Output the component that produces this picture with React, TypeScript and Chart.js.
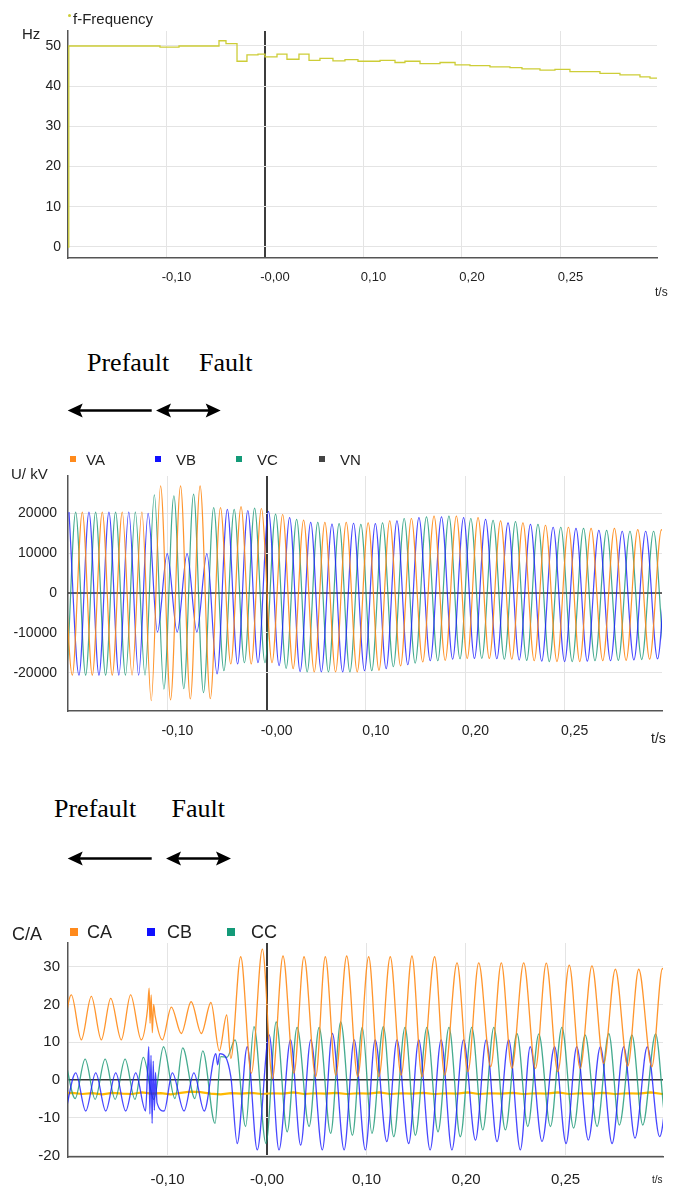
import React, { useEffect, useRef } from 'react';
import { Chart, registerables } from 'chart.js';

Chart.register(...registerables);

const SANS = "'Liberation Sans', Arial, Helvetica, sans-serif";
const SERIF = "'Liberation Serif', 'Times New Roman', Times, serif";

// ---------- shared time axis (ms) ----------
const xMin = -200;
const xMax = 398;
const xTickValues = [-100, 0, 100, 200, 300];
const xTickLabels = ['-0,10', '-0,00', '0,10', '0,20', '0,25'];

// ---------- frequency (Hz), stepped ----------
const freqT = [-200, -199.2, -106.6, -87.3, -46.7, -39.6, -28.4, -18.3, -7.1, 0, 12.2, 22.3, 34.5, 44.7, 55.8, 69.0, 81.2, 94.4, 116.8, 132.0, 142.1, 157.4, 177.7, 193.0, 208.1, 228.4, 248.7, 260.9, 279.2, 294.4, 309.6, 340.1, 360.4, 380.7, 390.9, 398];
const freqV = [0, 50.0, 49.7, 50.0, 51.3, 50.6, 46.2, 47.8, 48.0, 47.3, 48.0, 46.7, 48.0, 46.4, 46.9, 46.3, 46.6, 46.2, 46.4, 45.9, 46.2, 45.6, 45.9, 45.3, 45.1, 44.8, 44.6, 44.3, 44.0, 44.2, 43.6, 43.2, 42.8, 42.3, 42.0, 42.0];
const freqTicks = [0, 10, 20, 30, 40, 50];

// ---------- voltages (V) ----------
// times (ms) of successive VA positive peaks
const cycleT = [-205.7, -185.6, -165.5, -145.4, -125.6, -106.8, -86.7, -67.0, -46.5, -25.8, -5.3, 16.1, 37.2, 58.6, 80.1, 102.2, 123.9, 145.7, 168.5, 191.0, 212.8, 235.5, 258.0, 280.7, 303.8, 326.6, 350.1, 373.6, 397.5, 420.9];
const vaHi = [20300, 20300, 20300, 20300, 20300, 26900, 26900, 26900, 21400, 21700, 21200, 19700, 18300, 17700, 17700, 17600, 18100, 18700, 19300, 19300, 18900, 18100, 17600, 17000, 16500, 16200, 16200, 15900, 15900, 15900];
const vaLo = [-20600, -20600, -20600, -20600, -27000, -26800, -26600, -26500, -17800, -17800, -17500, -19000, -19800, -19800, -19800, -19400, -18300, -17300, -16900, -16400, -16400, -16600, -17000, -17200, -17200, -17000, -16900, -16600, -16500, -16500];
const vbHi = [20300, 20300, 20300, 20300, 20000, 9900, 9900, 9900, 21000, 20700, 20500, 18900, 17700, 17300, 17500, 17400, 18100, 18900, 19100, 18900, 18500, 17600, 17200, 16500, 16200, 15700, 15500, 15500, 15500, 15500];
const vbLo = [-20600, -20600, -20600, -20600, -9800, -9800, -9800, -20300, -17800, -17500, -18200, -19700, -19800, -19800, -19500, -19000, -18000, -17000, -16600, -16400, -16500, -16800, -17100, -17200, -17100, -17000, -16800, -16500, -16500, -16500];
const vcHi = [20300, 20300, 20300, 20300, 20300, 24600, 24400, 24800, 21400, 21000, 21300, 19800, 18500, 17700, 17400, 17200, 17600, 18700, 19100, 19300, 18700, 18200, 17900, 17200, 16500, 16200, 15700, 15500, 15500, 15500];
const vcLo = [-20600, -20600, -20600, -20600, -20600, -24100, -24000, -25000, -19500, -17500, -17500, -18900, -19800, -19800, -19800, -19500, -18500, -17600, -17000, -16500, -16400, -16600, -16900, -17200, -17200, -17000, -16900, -16700, -16500, -16500];
const vnT = [-200, 398];
const vnV = [0, 0];
const voltTicks = [-20000, -10000, 0, 10000, 20000];

// ---------- currents (A): [position in cycles, value] ----------
const caPts = [[0, 10.6], [0.45, 22.5], [0.95, 10.6], [1.45, 22.1], [1.95, 10.6], [2.42, 21.6], [2.95, 10.6], [3.42, 22.5], [3.96, 10.6], [4.3, 19], [4.38, 24.3], [4.43, 15], [4.49, 22.5], [4.55, 12.5], [4.62, 20], [4.7, 17], [5.08, 10.6], [5.53, 19.3], [6.03, 12.3], [6.53, 20.7], [7.05, 12.3], [7.52, 20.5], [7.93, 7.7], [8.29, 17.2], [8.49, 5.7], [8.97, 32.6], [9.49, 1.8], [10.03, 34.6], [10.5, 0.4], [11, 32.8], [11.52, 1.8], [12, 32.6], [12.55, 0.9], [13, 32.6], [13.49, 1.3], [14, 32.8], [14.5, 0.9], [15, 32.6], [15.47, 0.9], [16, 32.6], [16.5, 1.3], [17, 32.8], [17.44, 0.9], [18, 32.6], [18.45, 1.3], [19, 31], [19.5, 2.2], [20, 31], [20.53, 3.5], [21, 31], [21.47, 3.1], [22, 31], [22.52, 3.1], [23, 30.9], [23.5, 2.2], [24, 30.4], [24.48, 3.1], [25, 30.2], [25.5, 4.4], [26, 29.3], [26.53, 3.7], [27, 29.3], [27.55, 3.5], [28, 29.5], [28.5, 3.5]];
const cbPts = [[0.17, -8.2], [0.67, 1.9], [1.17, -8.2], [1.67, 1.9], [2.17, -8.2], [2.67, 1.9], [3.17, -8.2], [3.68, 1.9], [4.19, -8.2], [4.3, 3], [4.36, 8.8], [4.42, -9], [4.48, 6.5], [4.54, -11.5], [4.6, 5], [4.66, -8], [4.72, 2], [4.8, -6], [5.17, -8.2], [5.58, 1.9], [6.17, -8.2], [6.67, 1.9], [7.19, -8.2], [7.76, 7], [7.85, 4], [7.95, 7], [8.49, 0.9], [8.8, -16.8], [9.29, 8.8], [9.78, -18.5], [10.35, 11.9], [10.81, -18.5], [11.36, 10.6], [11.84, -17.2], [12.32, 10.6], [12.86, -18.5], [13.33, 12.3], [13.88, -18.5], [14.34, 10.6], [14.85, -18.5], [15.3, 10.6], [15.84, -16.3], [16.31, 10.6], [16.85, -16.8], [17.3, 10.6], [17.8, -18.5], [18.29, 10.6], [18.77, -18.5], [19.3, 10.6], [19.85, -15.9], [20.33, 10.6], [20.81, -16.3], [21.33, 10.6], [21.85, -18.5], [22.29, 8.8], [22.81, -16.3], [23.36, 8.8], [23.86, -16.8], [24.33, 8.8], [24.84, -15.9], [25.36, 8.8], [25.86, -16.8], [26.36, 8.8], [26.84, -15.4], [27.36, 8.8], [27.88, -15], [28.36, 8.8]];
const ccPts = [[0.14, 5.5], [0.64, -4.9], [1.14, 5.5], [1.64, -5.1], [2.14, 5.5], [2.64, -5.1], [3.14, 5.5], [3.64, -5.1], [4.07, 6.0], [4.63, -5.1], [5.14, 8.8], [5.71, -4.9], [6.1, 8.5], [6.72, -4.9], [7.12, 7.7], [7.72, -11.5], [8.0, 6.2], [8.3, 6.0], [8.7, 10.6], [9.21, -12.3], [9.62, 14.1], [10.2, -16.8], [10.68, 15.4], [11.2, -13.7], [11.67, 13.9], [12.24, -12.3], [12.71, 13.9], [13.25, -14.1], [13.72, 15.4], [14.26, -14.6], [14.71, 13.9], [15.15, -14.1], [15.68, 14.1], [16.16, -15], [16.68, 13.9], [17.15, -14.6], [17.66, 13.9], [18.15, -13.7], [18.64, 13.9], [19.15, -15], [19.68, 13.9], [20.18, -13.2], [20.67, 13.9], [21.18, -13.2], [21.7, 12.3], [22.18, -12.3], [22.67, 12.2], [23.18, -12.3], [23.68, 13.9], [24.19, -12.7], [24.7, 11.9], [25.22, -12.3], [25.72, 12.3], [26.17, -11.9], [26.71, 11.9], [27.17, -11.9], [27.71, 12.2], [28.17, -11.5], [28.7, 12]];
// residual current, one value per half cycle
const cnVals = [-3.6, -3.4, -3.7, -3.5, -3.8, -3.4, -3.6, -3.7, -3.3, -3.6, -3.5, -3.8, -3.4, -3.1, -3.2, -3.6, -3.8, -3.5, -3.6, -3.4, -3.7, -3.5, -3.6, -3.3, -3.7, -3.5, -3.6, -3.4, -3.7, -3.5, -3.6, -3.3, -3.7, -3.5, -3.6, -3.4, -3.7, -3.5, -3.6, -3.3, -3.7, -3.5, -3.6, -3.4, -3.7, -3.5, -3.6, -3.3, -3.7, -3.5, -3.6, -3.4, -3.7, -3.5, -3.6, -3.3, -3.7, -3.5, -3.6];
const currTicks = [-20, -10, 0, 10, 20, 30];

// ---------- colours ----------
const ORANGE = 'rgba(255,137,22,0.9)';
const BLUE = 'rgba(25,25,255,0.8)';
const TEAL = 'rgba(22,150,115,0.8)';
const FREQ = 'rgb(205,205,55)';
const GOLD = 'rgba(255,185,0,1)';

function posToMs(p: number): number {
  const n = cycleT.length;
  let k = Math.floor(p);
  if (k < 0) k = 0;
  if (k > n - 2) k = n - 2;
  return cycleT[k] + (p - k) * (cycleT[k + 1] - cycleT[k]);
}

function hiLo(hi: number[], lo: number[], hiOff: number, loOff: number) {
  const pts: { x: number; y: number }[] = [];
  for (let i = 0; i < hi.length; i++) {
    pts.push({ x: posToMs(i + hiOff), y: hi[i] });
    pts.push({ x: posToMs(i + loOff), y: lo[i] });
  }
  return pts.sort((a, b) => a.x - b.x);
}

function fromPairs(p: number[][]) {
  return p.map(([pos, v]) => ({ x: posToMs(pos), y: v }));
}

interface AxisSpec {
  padTop: number; padRight: number;
  xHeight: number; xFont: number; xPad: number; xOffset: number;
  yWidth: number; yFont: number; yPad: number;
  yMin: number; yMax: number; yTicks: number[]; yZeroDark: boolean;
}

function makeOptions(a: AxisSpec): any {
  const light = '#e4e4e4';
  return {
    responsive: false,
    animation: false,
    events: [],
    layout: { padding: { top: a.padTop, right: a.padRight, left: 0, bottom: 0 } },
    plugins: { legend: { display: false }, tooltip: { enabled: false }, title: { display: false } },
    elements: { point: { radius: 0 } },
    scales: {
      x: {
        type: 'linear', min: xMin, max: xMax,
        afterBuildTicks: (s: any) => { s.ticks = xTickValues.map((v) => ({ value: v })); },
        afterFit: (s: any) => { s.height = a.xHeight; },
        ticks: {
          autoSkip: false, maxRotation: 0, minRotation: 0, padding: a.xPad, labelOffset: a.xOffset,
          color: '#222', font: { family: SANS, size: a.xFont },
          callback: (v: any) => { const i = xTickValues.indexOf(Number(v)); return i >= 0 ? xTickLabels[i] : ''; },
        },
        grid: {
          drawTicks: false,
          color: (c: any) => (c.tick && c.tick.value === 0 ? '#3c3c3c' : light),
          lineWidth: (c: any) => (c.tick && c.tick.value === 0 ? 2 : 1),
        },
        border: { color: '#555', width: 1.5 },
      },
      y: {
        type: 'linear', min: a.yMin, max: a.yMax,
        afterBuildTicks: (s: any) => { s.ticks = a.yTicks.map((v) => ({ value: v })); },
        afterFit: (s: any) => { s.width = a.yWidth; },
        ticks: {
          autoSkip: false, padding: a.yPad, color: '#222', font: { family: SANS, size: a.yFont },
          callback: (v: any) => String(v),
        },
        grid: {
          drawTicks: false,
          color: (c: any) => (a.yZeroDark && c.tick && c.tick.value === 0 ? '#333' : light),
          lineWidth: (c: any) => (a.yZeroDark && c.tick && c.tick.value === 0 ? 1.5 : 1),
        },
        border: { color: '#555', width: 1.5 },
      },
    },
  };
}

function wave(data: any[], color: string, width = 1.2): any {
  return { data, borderColor: color, borderWidth: width, pointRadius: 0, fill: false, cubicInterpolationMode: 'monotone' };
}

function freqConfig(): any {
  return {
    type: 'line',
    data: {
      datasets: [{
        data: freqT.map((t, i) => ({ x: t, y: freqV[i] })),
        borderColor: FREQ, borderWidth: 1.3, pointRadius: 0, fill: false, stepped: true,
      }],
    },
    options: makeOptions({
      padTop: 31, padRight: 21, xHeight: 42, xFont: 13, xPad: 12, xOffset: 10,
      yWidth: 68, yFont: 14, yPad: 7, yMin: -2.74, yMax: 53.73, yTicks: freqTicks, yZeroDark: false,
    }),
  };
}

function voltConfig(): any {
  return {
    type: 'line',
    data: {
      datasets: [
        wave(hiLo(vaHi, vaLo, 0, 0.5), ORANGE),
        wave(hiLo(vbHi, vbLo, 1 / 3, 5 / 6), BLUE),
        wave(hiLo(vcHi, vcLo, -1 / 3, 1 / 6), TEAL),
        { data: vnT.map((t, i) => ({ x: t, y: vnV[i] })), borderColor: '#333', borderWidth: 1.5, pointRadius: 0, fill: false },
      ],
    },
    options: makeOptions({
      padTop: 36, padRight: 16, xHeight: 49, xFont: 14, xPad: 12, xOffset: 10,
      yWidth: 68, yFont: 14, yPad: 11, yMin: -29610, yMax: 29360, yTicks: voltTicks, yZeroDark: false,
    }),
  };
}

function currConfig(): any {
  return {
    type: 'line',
    data: {
      datasets: [
        wave(fromPairs(caPts), ORANGE, 1.3),
        wave(fromPairs(cbPts), BLUE, 1.3),
        wave(fromPairs(ccPts), TEAL, 1.3),
        { data: cnVals.map((v, i) => ({ x: posToMs(i / 2), y: v })), borderColor: GOLD, borderWidth: 2.2, pointRadius: 0, fill: false },
      ],
    },
    options: makeOptions({
      padTop: 43, padRight: 15, xHeight: 31, xFont: 15, xPad: 14, xOffset: 0,
      yWidth: 68, yFont: 15, yPad: 8, yMin: -20.37, yMax: 36.24, yTicks: currTicks, yZeroDark: true,
    }),
  };
}

function ChartCanvas({ top, height, config }: { top: number; height: number; config: () => any }) {
  const ref = useRef<HTMLCanvasElement>(null);
  useEffect(() => {
    const chart = new Chart(ref.current as HTMLCanvasElement, config());
    return () => chart.destroy();
  }, []);
  return (
    <canvas
      ref={ref}
      width={678}
      height={height}
      style={{ position: 'absolute', left: 0, top, width: 678, height, display: 'block' }}
    />
  );
}

function Txt({ x, y, size, children, family = SANS, color = '#222' }: any) {
  return (
    <div
      style={{
        position: 'absolute', left: x, top: y, fontFamily: family, fontSize: size,
        lineHeight: `${size}px`, transform: 'translateY(-50%)', color, whiteSpace: 'nowrap',
      }}
    >
      {children}
    </div>
  );
}

function Sq({ x, y, s, color }: any) {
  return <div style={{ position: 'absolute', left: x, top: y, width: s, height: s, background: color }} />;
}

function headL(tx: number, y: number) {
  return `${tx},${y} ${tx + 15},${y - 7} ${tx + 12},${y} ${tx + 15},${y + 7}`;
}
function headR(tx: number, y: number) {
  return `${tx},${y} ${tx - 15},${y - 7} ${tx - 12},${y} ${tx - 15},${y + 7}`;
}

function ArrowSet({ y, l1, r1, l2, r2 }: any) {
  return (
    <g fill="#000" stroke="none">
      <line x1={l1 + 10} y1={y} x2={r1} y2={y} stroke="#000" strokeWidth={2.6} />
      <polygon points={headL(l1, y)} />
      <line x1={l2 + 10} y1={y} x2={r2 - 10} y2={y} stroke="#000" strokeWidth={2.6} />
      <polygon points={headL(l2, y)} />
      <polygon points={headR(r2, y)} />
    </g>
  );
}

const voltLegend = [
  { label: 'VA', color: '#ff8a1c' },
  { label: 'VB', color: '#1010ff' },
  { label: 'VC', color: '#139a78' },
  { label: 'VN', color: '#444444' },
];
const currLegend = [
  { label: 'CA', color: '#ff8a1c' },
  { label: 'CB', color: '#1010ff' },
  { label: 'CC', color: '#139a78' },
];

export default function App() {
  const vSq = [70, 155, 236, 319];
  const vTx = [86, 176, 257, 340];
  const cSq = [70, 147, 227];
  const cTx = [87, 167, 251];
  return (
    <div style={{ position: 'absolute', left: 0, top: 0, width: 678, height: 1188, background: '#fff', overflow: 'hidden' }}>
      <ChartCanvas top={0} height={300} config={freqConfig} />
      <ChartCanvas top={440} height={320} config={voltConfig} />
      <ChartCanvas top={900} height={288} config={currConfig} />

      {/* chart 1 texts */}
      <div style={{ position: 'absolute', left: 67.5, top: 14, width: 3, height: 3, borderRadius: 2, background: FREQ }} />
      <Txt x={73} y={17.5} size={15}>f-Frequency</Txt>
      <Txt x={22} y={33} size={15}>Hz</Txt>
      <Txt x={655} y={292} size={12}>t/s</Txt>

      {/* annotations */}
      <Txt x={87} y={363} size={26} family={SERIF} color="#000">Prefault</Txt>
      <Txt x={199} y={363} size={26} family={SERIF} color="#000">Fault</Txt>
      <Txt x={54} y={808.5} size={26} family={SERIF} color="#000">Prefault</Txt>
      <Txt x={171.5} y={808.5} size={26} family={SERIF} color="#000">Fault</Txt>
      <svg width={678} height={1188} style={{ position: 'absolute', left: 0, top: 0 }}>
        <ArrowSet y={410.5} l1={67.7} r1={151.7} l2={156} r2={220.7} />
        <ArrowSet y={858.5} l1={67.7} r1={151.7} l2={166} r2={231} />
      </svg>

      {/* chart 2 texts */}
      {voltLegend.map((it, i) => (
        <React.Fragment key={it.label}>
          <Sq x={vSq[i]} y={456} s={6} color={it.color} />
          <Txt x={vTx[i]} y={458.5} size={15}>{it.label}</Txt>
        </React.Fragment>
      ))}
      <Txt x={11} y={473} size={15}>U/ kV</Txt>
      <Txt x={651} y={738} size={14}>t/s</Txt>

      {/* chart 3 texts */}
      {currLegend.map((it, i) => (
        <React.Fragment key={it.label}>
          <Sq x={cSq[i]} y={928} s={8} color={it.color} />
          <Txt x={cTx[i]} y={932} size={18}>{it.label}</Txt>
        </React.Fragment>
      ))}
      <Txt x={12} y={934} size={18}>C/A</Txt>
      <Txt x={652} y={1180} size={10}>t/s</Txt>
    </div>
  );
}
